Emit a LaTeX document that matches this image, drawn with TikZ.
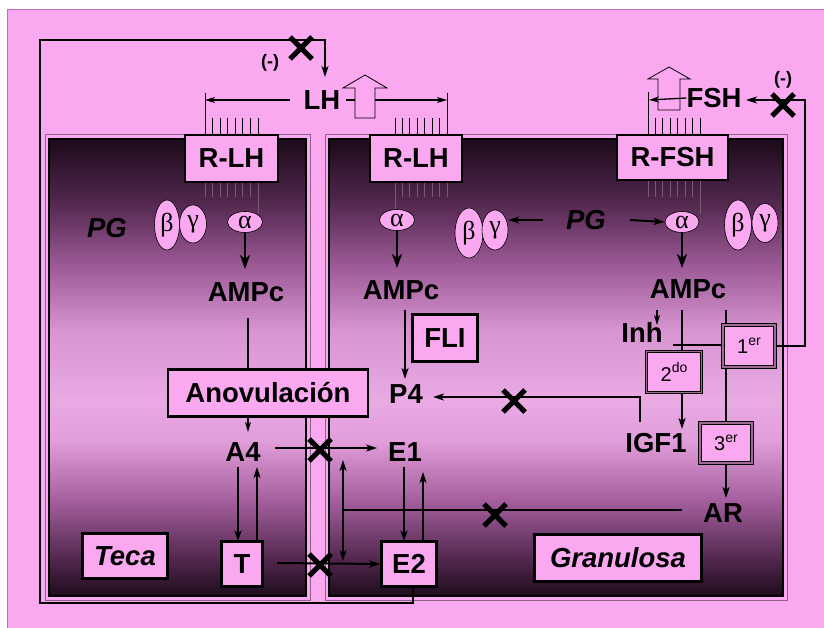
\documentclass[tikz,border=0pt]{standalone}
\usepackage{fontspec}
\setmainfont{Liberation Sans}
\newfontfamily\grk{Liberation Serif}
\usetikzlibrary{arrows.meta,shapes.geometric}
\definecolor{pinkbg}{RGB}{250,168,240}
\definecolor{bordc}{RGB}{190,110,180}
\definecolor{cellgray}{RGB}{140,100,135}
\definecolor{mauve}{RGB}{160,105,150}
\definecolor{hatg}{RGB}{120,90,115}
\definecolor{s0}{RGB}{30,12,28}
\definecolor{s1}{RGB}{80,38,76}
\definecolor{s2}{RGB}{165,95,158}
\definecolor{s3}{RGB}{224,158,218}
\definecolor{s4}{RGB}{234,170,228}
\definecolor{s5}{RGB}{214,148,208}
\definecolor{s6}{RGB}{150,85,144}
\definecolor{s7}{RGB}{80,38,76}
\definecolor{s8}{RGB}{28,10,26}
\pgfdeclareverticalshading{cellsh}{100bp}{color(0bp)=(s0); color(25bp)=(s0); color(28.9bp)=(s1); color(35.5bp)=(s2); color(42bp)=(s3); color(46.4bp)=(s4); color(54.1bp)=(s5); color(61.8bp)=(s6); color(68.3bp)=(s7); color(75bp)=(s8); color(100bp)=(s8)}
\newcommand\sups[1]{\raisebox{0.42em}{\fontsize{14}{14}\selectfont #1}}
\newcommand\xmk[1]{\draw[xm] #1 ++(-11,-11) -- ++(22,22); \draw[xm] #1 ++(11,-11) -- ++(-22,22);}
\tikzset{
 lbl/.style={font=\fontsize{27.5}{29}\selectfont\bfseries, inner sep=0pt},
 bx/.style={draw, line width=2.2pt, fill=pinkbg, inner sep=0pt, font=\fontsize{27.5}{29}\selectfont\bfseries},
 dbx/.style={draw=black, line width=1.1pt, double=mauve, double distance=1.4pt, fill=pinkbg, inner sep=0pt, font=\fontsize{20}{21}\selectfont},
 ell/.style={ellipse, draw=black, line width=0.6pt, fill=pinkbg, inner sep=0pt, font=\grk\fontsize{26}{26}\selectfont},
 ln/.style={line width=2pt},
 ar/.style={line width=2pt, -{Stealth[length=11pt,width=7pt,inset=3pt]}},
 dar/.style={line width=2pt, {Stealth[length=11pt,width=7pt,inset=3pt]}-{Stealth[length=11pt,width=7pt,inset=3pt]}},
 thk/.style={line width=2.6pt, -{Stealth[length=14pt,width=10pt,inset=4pt]}},
 tar/.style={line width=1.3pt, -{Stealth[length=10pt,width=6pt,inset=3pt]}},
 hat/.style={line width=0.9pt},
 hatb/.style={line width=0.9pt, draw=hatg},
 xm/.style={line width=5pt},
 cellout/.style={draw=cellgray, line width=1pt},
 cellin/.style={shading=cellsh, draw=black, line width=2.6pt},
 hol/.style={draw=black, line width=0.8pt, fill=pinkbg},
 minus/.style={font=\fontsize{18}{18}\selectfont\bfseries, inner sep=0pt}
}
\begin{document}
\begin{tikzpicture}[x=1pt,y=-1pt]
\useasboundingbox (0,0) rectangle (824,628);
\fill[white] (0,0) rectangle (824,628);
\draw[fill=pinkbg, draw=bordc, line width=1pt] (7,10) rectangle (830,635);
% cells
\draw[cellout] (45,135) rectangle (310,600);
\path[cellin] (49,139) rectangle (306,596);
\draw[cellout] (325,135) rectangle (787,600);
\path[cellin] (329,139) rectangle (783,596);
% hatches
\foreach \i in {0,...,7} {
  \draw[hat] ({205+\i*7.57},118) -- ({205+\i*7.57},135);
  \draw[hatb] ({205+\i*7.57},182) -- ({205+\i*7.57},197);
  \draw[hat] ({395+\i*7.43},118) -- ({395+\i*7.43},135);
  \draw[hatb] ({395+\i*7.43},182) -- ({395+\i*7.43},197);
  \draw[hat] ({648+\i*7.43},118) -- ({648+\i*7.43},135);
  \draw[hatb] ({648+\i*7.43},180) -- ({648+\i*7.43},197);
}
\draw[hat] (205,93) -- (205,118);
\draw[hat] (447,93) -- (447,118);
\draw[hat] (648,92) -- (648,118);
% hollow arrow FSH (under line)
\draw[hol] (669,67) -- (690,79) -- (680,79) -- (680,110) -- (658,110) -- (658,79) -- (648,79) -- cycle;
% nodes
\node[lbl] (LH) at (322,100) {LH};
\node[lbl] (FSH) at (714,98) {FSH};
\node[minus] (m1) at (270,63) {(-)};
\node[minus] (m2) at (783,80) {(-)};
\node[bx, minimum width=93pt, minimum height=47pt] (rlhT) at (231.5,158.5) {R-LH};
\node[bx, minimum width=92pt, minimum height=47pt] (rlhG) at (416,158.5) {R-LH};
\node[bx, minimum width=111pt, minimum height=45pt] (rfsh) at (672.5,157.5) {R-FSH};
\draw[hatb] (258,197) -- (258,214);
\draw[hatb] (395,197) -- (395,210);
\draw[hatb] (700,197) -- (700,214);
\node[ell, minimum width=35pt, minimum height=21pt] (aT) at (245,222) {α};
\node[ell, minimum width=35pt, minimum height=21pt] (aG) at (397,220) {α};
\node[ell, minimum width=34pt, minimum height=21pt] (aF) at (682,222) {α};
\node[ell, minimum width=25pt, minimum height=50pt] (bT) at (167,225) {β};
\node[ell, minimum width=27pt, minimum height=38pt] (gT) at (193,224) {γ};
\node[ell, minimum width=28pt, minimum height=50pt] (bG) at (469,233) {β};
\node[ell, minimum width=26pt, minimum height=40pt] (gG) at (495,230) {γ};
\node[ell, minimum width=27pt, minimum height=50pt] (bF) at (738,225) {β};
\node[ell, minimum width=26pt, minimum height=39pt] (gF) at (765,223) {γ};
\node[lbl, font=\fontsize{27.5}{29}\selectfont\bfseries\itshape] (pgT) at (107,228) {PG};
\node[lbl, font=\fontsize{27.5}{29}\selectfont\bfseries\itshape] (pgG) at (586,220) {PG};
\node[lbl] (ampcT) at (246,292) {AMPc};
\node[lbl] (ampcG) at (401,290) {AMPc};
\node[lbl] (ampcF) at (688,289) {AMPc};
\node[bx, minimum width=200pt, minimum height=47pt] (anov) at (268,393) {Anovulación};
\node[bx, minimum width=65pt, minimum height=47pt] (FLI) at (445,338) {FLI};
\node[lbl] (A4) at (243,452) {A4};
\node[lbl] (E1) at (405,452) {E1};
\node[lbl] (P4) at (406,394) {P4};
\node[lbl] (IGF) at (656,443) {IGF1};
\node[lbl] (Inh) at (642,333) {Inh};
\node[lbl] (AR) at (723,513) {AR};
\node[bx, minimum width=41pt, minimum height=45pt] (T) at (242,564) {T};
\node[bx, minimum width=55pt, minimum height=45pt] (E2) at (409,564) {E2};
\node[bx, minimum width=85pt, minimum height=45pt, font=\fontsize{27.5}{29}\selectfont\bfseries\itshape] (teca) at (125,556) {Teca};
\node[bx, minimum width=167pt, minimum height=47pt, font=\fontsize{27.5}{29}\selectfont\bfseries\itshape] (gran) at (618,558) {Granulosa};
\node[dbx, minimum width=52pt, minimum height=42pt] (b1) at (749,346) {1\sups{er}};
\node[dbx, minimum width=55pt, minimum height=41pt] (b2) at (674,372) {2\sups{do}};
\node[dbx, minimum width=52pt, minimum height=40pt] (b3) at (726,443) {3\sups{er}};
% free ends
\coordinate (lhin) at (325,77);
\coordinate (fshin) at (746,100);
% feedback loops
\draw[ar] ([xshift=4pt]E2.south) -- (413,603) -- (40,603) -- (40,40) -- (325,40) -- (lhin);
\draw[ar] (b1.east) -- (805,346) -- (805,100) -- (fshin);
% LH / FSH lines
\draw[tar] (290,100) -- (205,100);
\draw[tar] (346,100) -- (447,100);
\draw[tar] (FSH.west) -- (649,100);
\draw[hol] (365,75) -- (387,88) -- (375,88) -- (375,118) -- (355,118) -- (355,88) -- (343,88) -- cycle;
% alpha -> AMPc
\draw[thk] (aT.south) -- (245,269);
\draw[thk] (aG.south) -- (397,268);
\draw[thk] (aF.south) -- (682,268);
% PG arrows
\draw[ar] (543,220) -- (gG.east |- pgG);
\draw[ar] (630,220) -- (aF.west);
% teca path
\draw[ln] (248,318) -- (248,370);
\draw[tar] (248,417) -- (248,432);
\draw[ar] (275,448) -- (377,448);
\draw[ar] (238,467) -- (238,541.5);
\draw[ar] (257,541.5) -- (257,467);
\draw[ar] (277,563) -- (E2.west);
% granulosa path
\draw[ar] (405,310) -- (405,379);
\draw[ar] (640,422) -- (640,397) -- (433,397);
\draw[ar] (404,467) -- (404,541.5);
\draw[ar] (423,541.5) -- (423,472);
\draw[dar] (343,460) -- (343,561);
\draw[ln] (682,510) -- (343,510);
% FSH AMPc branches
\draw[tar] (657,310) -- (657,325);
\draw[ln] (682,310) -- (b2.north -| 682,0);
\draw[ar] (b2.south -| 682,0) -- (682,429);
\draw[ln] (673,345) -- (b1.west |- 0,345);
\draw[ln] (726,310) -- (b1.north -| 726,0);
\draw[ln] (b1.south -| 726,0) -- (b3.north);
\draw[ar] (b3.south) -- (726,498);
% X marks
\xmk{(301,48)}
\xmk{(783,105)}
\xmk{(320,450)}
\xmk{(320,565)}
\xmk{(514,401)}
\xmk{(495,515)}
\end{tikzpicture}
\end{document}
